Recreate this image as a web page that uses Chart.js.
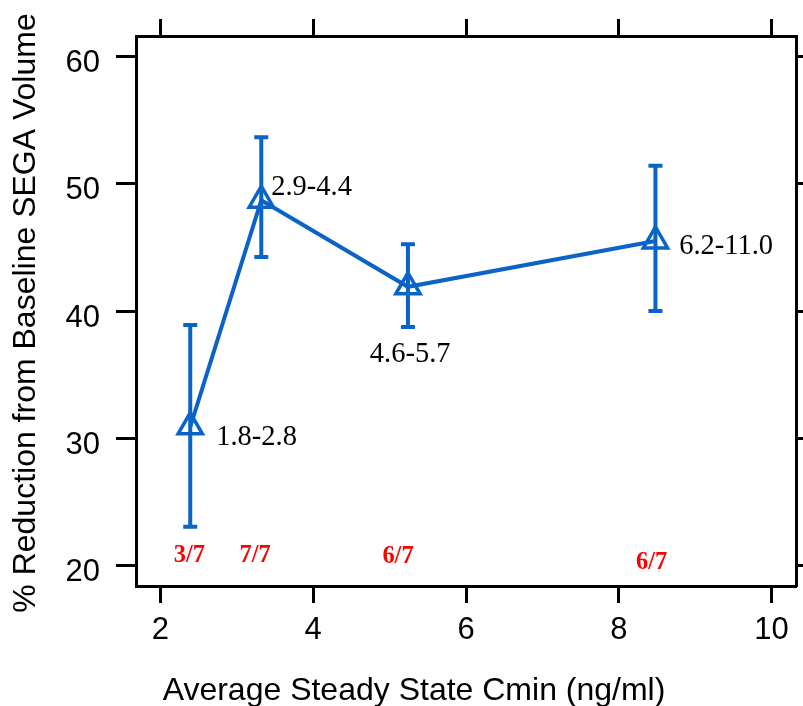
<!DOCTYPE html>
<html>
<head>
<meta charset="utf-8">
<script src="https://cdn.jsdelivr.net/npm/chart.js@4.4.1/dist/chart.umd.min.js"></script>
<style>
  html, body { margin: 0; padding: 0; background: #fff; }
  #wrap { width: 803px; height: 706px; }
</style>
</head>
<body>
<div id="wrap"><canvas id="chart" width="803" height="706"></canvas></div>
<script>
// ── DATA ─────────────────────────────────────────────
const cmin      = [2.39, 3.32, 5.24, 8.48];     // average steady state Cmin
const reduction = [30.9, 48.7, 41.9, 45.5];     // % reduction
const errLow    = [23.05, 44.25, 38.75, 40.0];
const errHigh   = [38.9, 53.65, 45.25, 51.4];

// concentration range labels (anchor in data units)
const rangeText  = ["1.8-2.8", "2.9-4.4", "4.6-5.7", "6.2-11.0"];
const rangeX     = [2.73, 3.45, 5.27, 8.79];
const rangeY     = [30.1, 49.75, 36.6, 45.1];
const rangeAlign = ["left", "left", "center", "left"];

// responder counts (red)
const respText = ["3/7", "7/7", "6/7", "6/7"];
const respX    = [2.38, 3.24, 5.11, 8.43];
const respY    = [20.8, 20.8, 20.7, 20.3];

const xTicks = [2, 4, 6, 8, 10];
const yTicks = [20, 30, 40, 50, 60];
const xTitle = "Average Steady State Cmin (ng/ml)";
const yTitle = "% Reduction from Baseline SEGA Volume";

const BLUE = "#0a64c8";
const SANS = "'Liberation Sans', Arial, sans-serif";
const SERIF = "'Liberation Serif', 'Times New Roman', serif";

// text a bit narrower than the font's own width, like the original
function squeezedText(ctx, t, px, py, align, sx) {
  ctx.save();
  ctx.translate(px, py);
  ctx.scale(sx, 1);
  ctx.textAlign = align;
  ctx.fillText(t, 0, 0);
  ctx.restore();
}

// ── PLUGIN: error bars, annotations, axis titles ────
const extras = {
  id: "extras",
  beforeDatasetsDraw(chart) {
    const { ctx, scales: { x, y } } = chart;
    ctx.save();
    ctx.strokeStyle = BLUE;
    ctx.lineWidth = 4;
    ctx.lineCap = "butt";
    cmin.forEach((v, i) => {
      const px = x.getPixelForValue(v);
      const lo = y.getPixelForValue(errLow[i]);
      const hi = y.getPixelForValue(errHigh[i]);
      ctx.beginPath();
      ctx.moveTo(px, lo); ctx.lineTo(px, hi);
      ctx.moveTo(px - 7, lo); ctx.lineTo(px + 7, lo);
      ctx.moveTo(px - 7, hi); ctx.lineTo(px + 7, hi);
      ctx.stroke();
    });
    ctx.restore();
  },
  afterDraw(chart) {
    const { ctx, scales: { x, y }, chartArea } = chart;
    ctx.save();
    ctx.textBaseline = "middle";

    // range labels
    ctx.fillStyle = "#000";
    ctx.font = "30px " + SERIF;
    rangeText.forEach((t, i) => {
      squeezedText(ctx, t, x.getPixelForValue(rangeX[i]), y.getPixelForValue(rangeY[i]), rangeAlign[i], 0.95);
    });

    // responders
    ctx.fillStyle = "#ff0000";
    ctx.font = "bold 26px " + SERIF;
    respText.forEach((t, i) => {
      squeezedText(ctx, t, x.getPixelForValue(respX[i]), y.getPixelForValue(respY[i]), "center", 0.94);
    });

    // axis titles
    ctx.fillStyle = "#000";
    ctx.font = "32px " + SANS;
    ctx.textBaseline = "alphabetic";
    ctx.textAlign = "center";
    ctx.fillText(xTitle, 414, 700);

    ctx.translate(35, (chartArea.top + chartArea.bottom) / 2 + 2);
    ctx.rotate(-Math.PI / 2);
    ctx.fillText(yTitle, 0, 0);
    ctx.restore();
  }
};

// ── AXES ─────────────────────────────────────────────
function axis(position, min, max, ticks, size, showLabels, tickLen) {
  const horizontal = position === "top" || position === "bottom";
  return {
    type: "linear",
    position,
    min, max,
    afterBuildTicks: s => { s.ticks = ticks.map(v => ({ value: v })); },
    afterFit: s => {
      if (horizontal) s.height = size; else s.width = size;
      s.paddingLeft = s.paddingRight = s.paddingTop = s.paddingBottom = 0;
    },
    ticks: {
      display: showLabels,
      color: "#000",
      font: { family: SANS, size: 31 },
      padding: horizontal ? 9 : 16,
      labelOffset: horizontal ? 0 : 7,
      maxRotation: 0,
      autoSkip: false
    },
    grid: {
      drawOnChartArea: false,
      drawTicks: true,
      tickLength: tickLen,
      tickWidth: 3,
      tickColor: "#000",
      color: "#000"
    },
    border: { display: true, color: "#000", width: 3 }
  };
}

new Chart(document.getElementById("chart"), {
  type: "line",
  data: {
    datasets: [{
      data: cmin.map((v, i) => ({ x: v, y: reduction[i] })),
      borderColor: BLUE,
      borderWidth: 4,
      tension: 0,
      fill: false,
      pointStyle: "triangle",
      pointRadius: 14,
      pointBorderWidth: 3.5,
      pointBorderColor: BLUE,
      pointBackgroundColor: "rgba(0,0,0,0)",
      xAxisID: "x",
      yAxisID: "y"
    }]
  },
  options: {
    responsive: false,
    devicePixelRatio: 1,
    animation: false,
    layout: { padding: 0, autoPadding: false },
    plugins: { legend: { display: false }, tooltip: { enabled: false } },
    scales: {
      x:  axis("bottom", 1.68, 10.32, xTicks, 120, true, 17),
      x2: axis("top",    1.68, 10.32, xTicks, 36, false, 17),
      y:  axis("left",   18.4, 61.6, yTicks, 136, true, 20),
      y2: axis("right",  18.4, 61.6, yTicks, 7, false, 20)
    }
  },
  plugins: [extras]
});
</script>
</body>
</html>
